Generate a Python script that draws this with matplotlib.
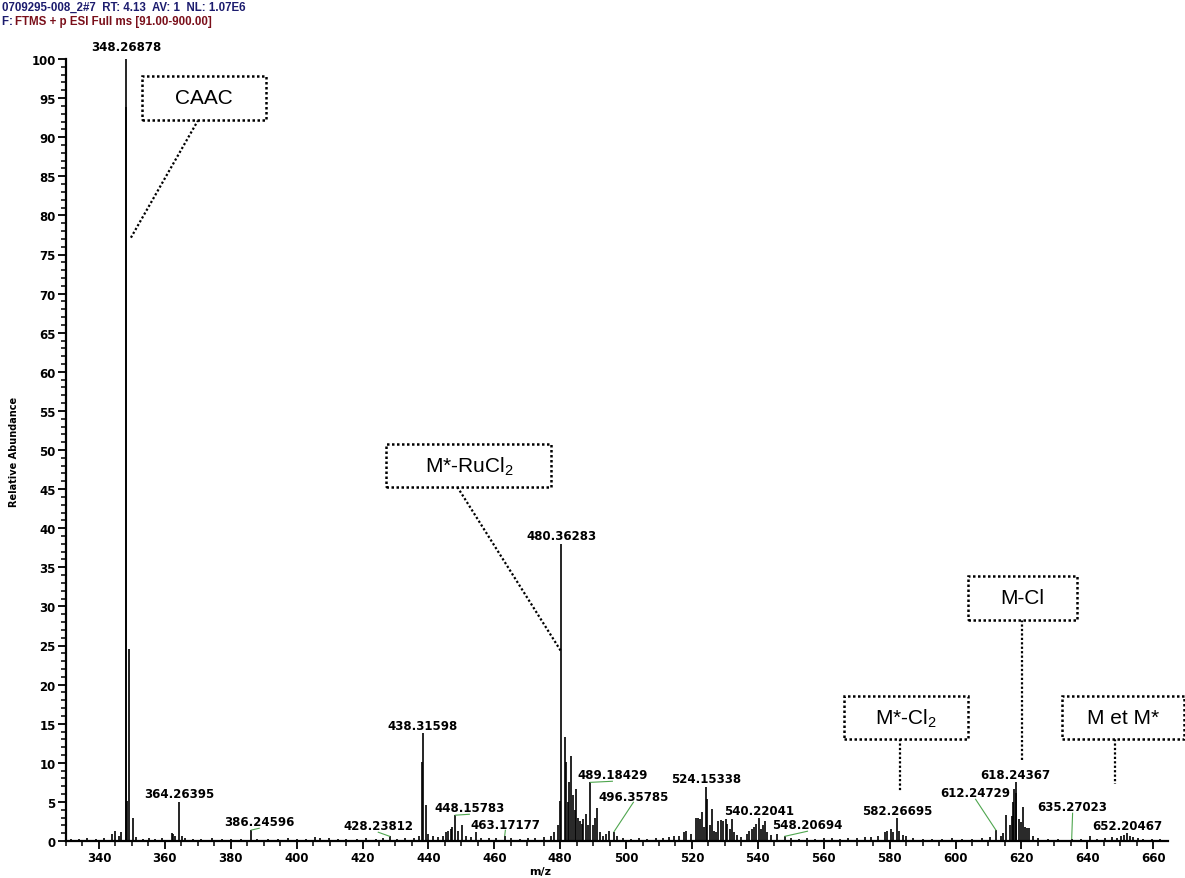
import numpy as np
import matplotlib
matplotlib.use('Agg')
import matplotlib.pyplot as plt
import matplotlib.ticker as ticker
from matplotlib.patches import Rectangle

plt.rcParams['font.family'] = ['DejaVu Sans']
plt.rcParams['mathtext.default'] = 'regular'

# ================= spectrum data =================
HEADER_1 = '0709295-008_2#7  RT: 4.13  AV: 1  NL: 1.07E6'
HEADER_2A = 'F: '
HEADER_2B = 'FTMS + p ESI Full ms [91.00-900.00]'

PEAK_MZ = [
    331.5, 334.0, 336.5, 339.0, 341.5,
    344.0, 344.9, 346.1, 346.7, 348.10, 348.26878, 348.6, 349.27, 350.27, 351.3,
    353.5, 355.2, 357.0, 359.1,
    362.2, 362.5, 363.1, 364.26395, 365.3, 366.2,
    368.5, 371.0, 374.2, 377.5, 380.1, 383.0,
    386.24596, 388.0, 391.2, 394.5, 397.3, 400.1, 403.0, 405.6, 407.2, 409.8,
    412.5, 415.0, 418.2, 421.1, 424.0, 426.1, 428.23812, 430.5, 433.0, 435.5, 437.0,
    438.10, 438.31598, 439.3, 440.0, 441.5, 443.0, 444.3, 445.4, 446.0, 447.0,
    447.3, 448.15783, 449.1, 450.3, 451.5, 453.0, 454.3, 456.0, 458.3, 460.5,
    463.17177, 465.2, 467.8, 470.1, 472.5, 475.0, 477.3, 478.2, 479.2,
    479.9, 480.36283, 481.36, 481.9, 482.5, 482.8, 483.4, 484.0, 484.6, 484.9,
    485.5, 486.1, 486.5, 487.0, 487.9, 488.4, 489.18429, 490.1, 490.7, 491.3,
    492.0, 493.0, 494.0, 494.9, 496.35785, 497.1, 499.0, 501.5, 504.0, 506.5,
    509.0, 511.2, 513.0, 514.6,
    516.2, 517.7, 518.3, 519.8, 521.2, 521.8, 522.4, 523.0, 523.6, 524.15338,
    524.5, 525.4, 526.0, 526.6, 527.2, 527.8, 528.7, 529.3, 530.3, 530.6,
    531.5, 532.1, 532.7, 533.6, 535.0, 536.7, 537.3, 538.2, 538.8, 539.4,
    540.22041, 540.9, 541.5, 542.1, 542.7, 543.9, 545.8, 548.20694,
    550.0, 552.5, 555.0, 557.5, 560.0, 562.6, 565.0, 567.5, 570.0, 572.5,
    574.5, 576.5,
    578.6, 579.2, 580.4, 581.0, 582.26695, 582.8, 584.2, 585.1, 587.0,
    590.0, 593.0, 596.0, 599.0, 602.0, 605.0, 608.0, 610.5,
    612.24729, 613.7, 614.3, 615.2, 616.4, 617.0, 617.3, 617.9, 618.24367,
    618.5, 619.2, 619.8, 620.4, 621.0, 621.6, 622.2, 623.4, 625.0, 628.0,
    631.0, 635.27023, 638.0, 640.9, 643.0, 645.5, 647.5, 649.0, 650.3, 651.2,
    652.20467, 653.0, 654.0, 655.5, 657.0, 659.5, 662.0,
]

PEAK_INT = [
    0.3, 0.3, 0.4, 0.3, 0.4,
    0.9, 1.3, 0.7, 1.1, 93.8, 100.0, 5.1, 24.6, 3.0, 0.5,
    0.3, 0.4, 0.3, 0.4,
    1.0, 0.9, 0.7, 5.0, 0.7, 0.4,
    0.3, 0.3, 0.4, 0.3, 0.3, 0.3,
    1.4, 0.3, 0.3, 0.3, 0.4, 0.3, 0.3, 0.5, 0.4, 0.4,
    0.3, 0.3, 0.3, 0.4, 0.3, 0.4, 0.6, 0.3, 0.4, 0.4, 0.6,
    10.1, 13.8, 4.6, 0.9, 0.6, 0.5, 0.7, 1.1, 1.3, 1.5,
    1.8, 3.3, 1.3, 2.0, 0.6, 0.5, 1.2, 0.4, 0.4, 0.4,
    0.7, 0.4, 0.3, 0.4, 0.4, 0.5, 0.6, 1.2, 2.0,
    5.1, 38.0, 13.3, 10.1, 5.0, 7.5, 10.9, 5.9, 4.0, 6.7,
    3.0, 2.5, 2.2, 2.8, 3.5, 2.0, 7.5, 2.0, 3.0, 4.2,
    1.1, 0.6, 0.9, 1.3, 1.2, 0.7, 0.4, 0.3, 0.4, 0.3,
    0.4, 0.4, 0.5, 0.6,
    0.6, 1.1, 1.3, 0.9, 2.9, 3.0, 2.8, 3.7, 1.8, 6.9,
    5.4, 2.0, 4.1, 1.3, 1.2, 2.6, 2.7, 2.6, 2.8, 2.2,
    1.5, 2.8, 1.1, 0.8, 0.5, 0.9, 1.3, 1.5, 1.8, 2.2,
    2.9, 1.5, 2.0, 2.6, 1.1, 0.8, 0.9, 0.6,
    0.4, 0.3, 0.4, 0.3, 0.4, 0.4, 0.3, 0.4, 0.4, 0.5,
    0.5, 0.6,
    1.2, 1.3, 1.5, 1.1, 2.9, 1.3, 0.8, 0.6, 0.4,
    0.3, 0.3, 0.3, 0.4, 0.3, 0.3, 0.4, 0.5,
    1.4, 0.7, 1.0, 3.3, 2.0, 3.2, 5.0, 6.7, 7.5,
    6.2, 2.8, 2.4, 4.3, 1.8, 1.6, 1.6, 0.6, 0.4, 0.3,
    0.3, 0.3, 0.3, 0.7, 0.3, 0.4, 0.5, 0.4, 0.6, 0.8,
    1.0, 0.7, 0.5, 0.4, 0.3, 0.3, 0.3,
]

# peaks labelled right above their apex
TOP_LABELS = [348.26878, 364.26395, 438.31598, 480.36283, 524.15338,
              540.22041, 582.26695, 618.24367, 652.20467]

# peaks whose label sits aside, joined by a thin leader
SIDE_LABELS = [386.24596, 428.23812, 448.15783, 463.17177, 489.18429,
               496.35785, 548.20694, 612.24729, 635.27023]
SIDE_POS = [(388.66, 2.43), (424.79, 1.92), (452.43, 4.22), (463.36, 2.17),
            (495.85, 8.44), (502.23, 5.75), (555.07, 2.05), (606.09, 6.14),
            (635.54, 4.35)]

# assignment call-outs: text, box (x0, x1, y0, y1), leader start, leader end
CALLOUTS = [
    ('CAAC', (353.13, 390.79, 92.20, 97.83), (370.14, 92.20), (349.5, 77.0)),
    ('M*-RuCl$_2$', (427.23, 477.33, 45.27, 50.77), (448.79, 45.27), (480.36, 24.2)),
    ('M-Cl', (603.66, 636.76, 28.26, 33.89), (620.05, 28.26), (620.05, 10.2)),
    ('M*-Cl$_2$', (566.14, 603.66, 13.04, 18.54), (583.0, 13.04), (583.0, 6.3)),
    ('M et M*', (632.2, 669.25, 13.04, 18.54), (648.5, 13.04), (648.5, 7.3)),
]

W, H = 1185, 879
fig = plt.figure(figsize=(W / 100, H / 100), dpi=100)
ax = fig.add_axes([66 / W, 37 / H, 1102 / W, 782 / H])

ax.vlines(PEAK_MZ, 0, PEAK_INT, color='black', lw=1.2)

ax.set_xlim(330, 664.5)
ax.set_ylim(0, 100)
for s in ['top', 'right']:
    ax.spines[s].set_visible(False)
for s in ['left', 'bottom']:
    ax.spines[s].set_linewidth(1.6)

ax.xaxis.set_major_locator(ticker.MultipleLocator(20))
ax.xaxis.set_minor_locator(ticker.MultipleLocator(5))
ax.yaxis.set_major_locator(ticker.MultipleLocator(5))
ax.yaxis.set_minor_locator(ticker.MultipleLocator(1))
ax.tick_params(which='major', length=6, width=1.3, labelsize=8.5, pad=1.5)
ax.tick_params(which='minor', length=3.6, width=1.1)
for lbl in ax.get_xticklabels() + ax.get_yticklabels():
    lbl.set_fontweight('bold')

lab_font = dict(fontsize=8.5, fontweight='bold', ha='center', va='center')
green = '#4fa64f'

pk_mz = np.array(PEAK_MZ)
pk_int = np.array(PEAK_INT)


def height_at(mz):
    return pk_int[np.argmin(np.abs(pk_mz - mz))]


for mz in TOP_LABELS:
    h = height_at(mz)
    off = 9.0 if h >= 99 else 5.8
    ax.annotate(f'{mz:.5f}', xy=(mz, h), xytext=(0, off),
                textcoords='offset points', annotation_clip=False, **lab_font)

for mz, (lx, ly) in zip(SIDE_LABELS, SIDE_POS):
    h = height_at(mz)
    ax.text(lx, ly, f'{mz:.5f}', **lab_font)
    ax.plot([mz, lx], [h, ly - 0.8], color=green, lw=0.8)

for text, (x0, x1, y0, y1), (sx, sy), (ex, ey) in CALLOUTS:
    ax.add_patch(Rectangle((x0, y0), x1 - x0, y1 - y0, facecolor='white',
                           edgecolor='black', lw=1.8, ls=(0, (1, 1)),
                           clip_on=False, zorder=4))
    ax.text((x0 + x1) / 2, (y0 + y1) / 2, text, fontsize=15,
            family='Liberation Sans', ha='center', va='center', zorder=5,
            clip_on=False)
    ax.plot([sx, ex], [sy, ey], color='black', lw=1.6, ls=(0, (1, 1)),
            zorder=3)

# header and axis titles
fig.text(2 / W, 1 - 8 / H, HEADER_1, fontsize=8.3, fontweight='bold',
         color='#1c1c6e', va='center', family='Liberation Sans')
fig.text(2 / W, 1 - 22 / H, HEADER_2A, fontsize=8.3, fontweight='bold',
         color='#1c1c6e', va='center', family='Liberation Sans')
fig.text(15 / W, 1 - 22 / H, HEADER_2B, fontsize=8.3, fontweight='bold',
         color='#7a0f1a', va='center', family='Liberation Sans')
fig.text(540 / W, 1 - 872 / H, 'm/z', fontsize=8, fontweight='bold',
         ha='center', va='center')
fig.text(14 / W, 1 - 452 / H, 'Relative Abundance', fontsize=7,
         fontweight='bold', rotation=90, ha='center', va='center')

fig.savefig('out.png', dpi=100)
